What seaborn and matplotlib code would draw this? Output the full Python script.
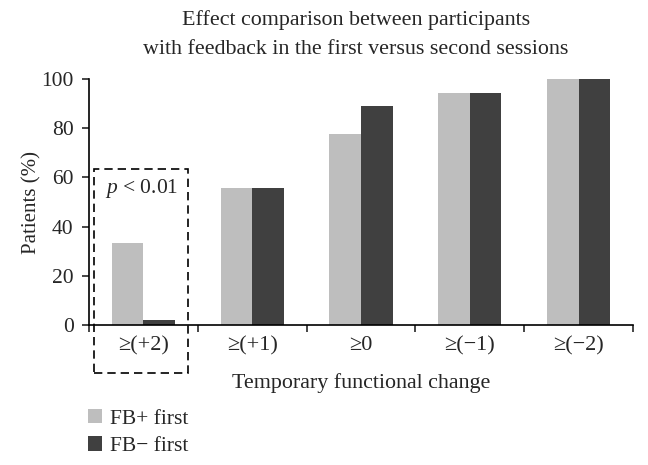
import pandas as pd
import matplotlib
matplotlib.use("Agg")
import matplotlib.pyplot as plt
import seaborn as sns
from matplotlib.patches import Patch, Rectangle

# --- Data ---
categories = ["≥(+2)", "≥(+1)", "≥0", "≥(−1)", "≥(−2)"]
groups = ["FB+ first", "FB− first"]
fb_plus_first = [33.3, 55.6, 77.8, 94.4, 100.0]
fb_minus_first = [2.0, 55.6, 88.9, 94.4, 100.0]
colors = ["#bebebe", "#404040"]

df = pd.DataFrame({
    "category": categories * 2,
    "group": [groups[0]] * len(categories) + [groups[1]] * len(categories),
    "value": fb_plus_first + fb_minus_first,
})

# --- Style ---
sns.set_style("ticks")
plt.rcParams["font.family"] = ["Liberation Serif", "DejaVu Serif"]
plt.rcParams["mathtext.fontset"] = "custom"
plt.rcParams["mathtext.it"] = "Liberation Serif:italic"
plt.rcParams["mathtext.rm"] = "Liberation Serif"

fig = plt.figure(figsize=(6.48, 4.65), dpi=100)
ax = fig.add_axes([89 / 648, 140 / 465, 544 / 648, 246 / 465])

sns.barplot(data=df, x="category", y="value", hue="group", order=categories,
            hue_order=groups, palette=dict(zip(groups, colors)), width=0.58,
            saturation=1, linewidth=0, legend=False, ax=ax)

ax.set_ylim(0, 100)
ax.set_xlim(-0.5, len(categories) - 0.5)
ax.set_yticks(range(0, 101, 20))
ax.tick_params(axis="y", labelsize=15.5, length=5, width=1.2, direction="out", pad=6)
ax.tick_params(axis="x", which="major", labelsize=16, length=0, pad=8)
ax.set_xticks([i - 0.5 for i in range(len(categories) + 1)], minor=True)
ax.tick_params(axis="x", which="minor", length=5, width=1.2, direction="out")
for s in ["top", "right"]:
    ax.spines[s].set_visible(False)
for s in ["left", "bottom"]:
    ax.spines[s].set_linewidth(1.2)
    ax.spines[s].set_color("black")

ax.set_xlabel("Temporary functional change", fontsize=15.8, labelpad=13)
ax.set_ylabel("Patients (%)", fontsize=15, labelpad=0)

fig.text(356 / 648, 1 - 20 / 465, "Effect comparison between participants",
         ha="center", va="center", fontsize=15.8)
fig.text(356 / 648, 1 - 50 / 465, "with feedback in the first versus second sessions",
         ha="center", va="center", fontsize=15.8)

# dashed box around the significant category
box = Rectangle((-0.45, -19.4), 0.856, 83.0, fill=False, linestyle=(0, (5, 3)),
                linewidth=1.2, edgecolor="black", clip_on=False)
ax.add_patch(box)
ax.text(-0.02, 55.5, "$p$ < 0.01", ha="center", va="center", fontsize=15.5)

handles = [Patch(facecolor=c, edgecolor="none") for c in colors]
fig.legend(handles, groups, loc="upper left", bbox_to_anchor=(88 / 648, 1 - 409 / 465),
           frameon=False, fontsize=15.5, handlelength=0.65, handleheight=0.65,
           handletextpad=0.35, labelspacing=0.35, borderpad=0, borderaxespad=0)

fig.savefig("out.png", dpi=100)
